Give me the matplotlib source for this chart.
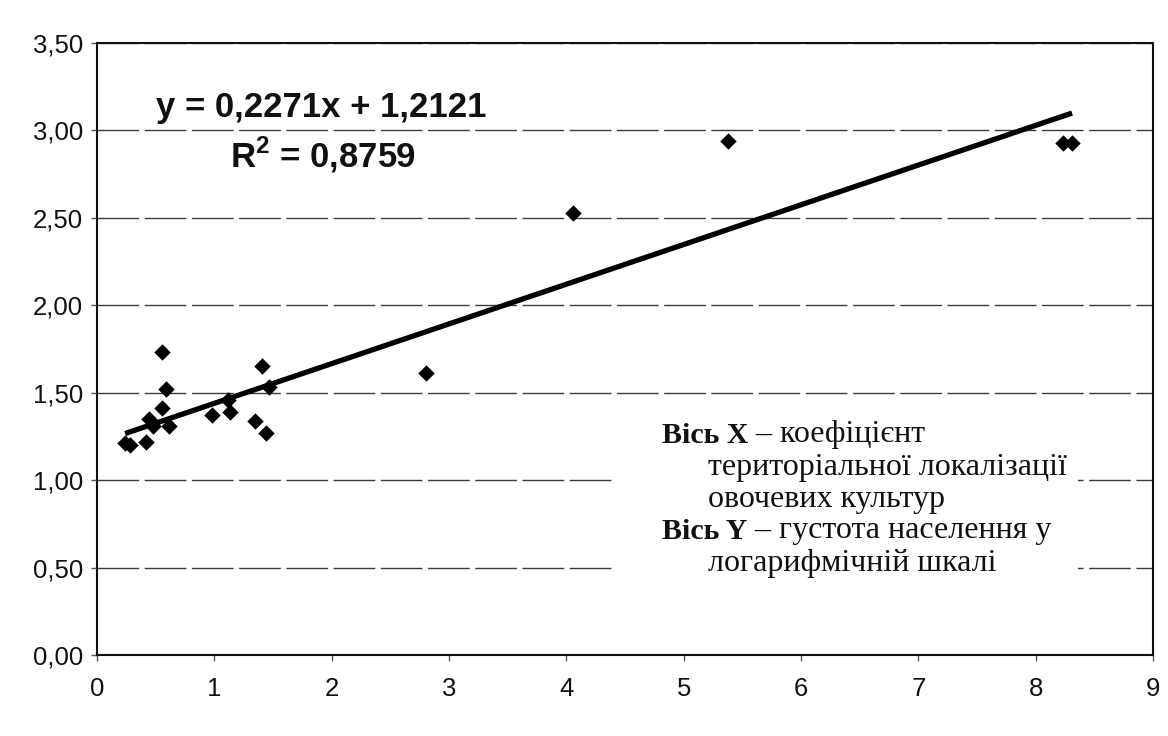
import matplotlib
matplotlib.use("Agg")
import matplotlib.pyplot as plt
from matplotlib.patches import Rectangle
import numpy as np

# Data
x_vals = [0.24, 0.28, 0.42, 0.44, 0.48, 0.55, 0.55, 0.59, 0.61, 0.98, 1.12,
          1.13, 1.35, 1.41, 1.44, 1.47, 2.80, 4.06, 5.38, 8.23, 8.31]
y_vals = [1.21, 1.20, 1.22, 1.35, 1.31, 1.73, 1.41, 1.52, 1.31, 1.37, 1.46,
          1.39, 1.34, 1.65, 1.27, 1.53, 1.61, 2.53, 2.94, 2.93, 2.93]
slope = 0.2271
intercept = 1.2121
r_squared = 0.8759
x_ticks = [0, 1, 2, 3, 4, 5, 6, 7, 8, 9]
y_ticks = [0.0, 0.5, 1.0, 1.5, 2.0, 2.5, 3.0, 3.5]
legend_lines = [
    ("Вісь X", " – коефіцієнт"),
    ("", "територіальної локалізації"),
    ("", "овочевих культур"),
    ("Вісь Y", " – густота населення у"),
    ("", "логарифмічній шкалі"),
]

plt.rcParams["mathtext.fontset"] = "custom"
plt.rcParams["mathtext.bf"] = "Liberation Sans:bold"
plt.rcParams["mathtext.rm"] = "Liberation Sans:bold"

W, H = 1168, 736
fig = plt.figure(figsize=(W / 100, H / 100), dpi=100)
fig.patch.set_facecolor("white")
ax = fig.add_axes([97 / W, 1 - 655 / H, (1153 - 97) / W, (655 - 43) / H])

ax.set_xlim(0, 9)
ax.set_ylim(0, 3.5)
ax.set_xticks(x_ticks)
ax.set_yticks(y_ticks)
ax.set_xticklabels([str(t) for t in x_ticks])
ax.set_yticklabels([f"{t:.2f}".replace(".", ",") for t in y_ticks])
ax.tick_params(axis="both", labelsize=18.5, length=4, width=1, color="#555555",
               labelcolor="#111111")
ax.tick_params(axis="y", pad=6)
ax.tick_params(axis="x", pad=12)
for lab in ax.get_xticklabels() + ax.get_yticklabels():
    lab.set_fontfamily("Liberation Sans")

ax.grid(axis="y", color="#3a3a3a", linewidth=1.0, linestyle=(0, (30, 4)))
ax.set_axisbelow(True)
for sp in ax.spines.values():
    sp.set_color("#111111")
    sp.set_linewidth(1.5)

# trendline over data range
xs = np.array([min(x_vals), max(x_vals)])
ax.plot(xs, slope * xs + intercept, color="black", linewidth=3.8,
        solid_capstyle="butt", zorder=3)
ax.scatter(x_vals, y_vals, marker="D", s=70, color="black", zorder=4,
           linewidths=0)

# white text box covering gridlines behind the axis description
box = Rectangle((615 / W, 1 - 585 / H), (1078 - 615) / W, (585 - 400) / H,
                transform=fig.transFigure, facecolor="white", edgecolor="none",
                zorder=2)
ax.add_patch(box)

# equation
eq = f"y = {slope:.4f}x + {intercept:.4f}".replace(".", ",")
r2 = r"R$^{\mathbf{2}}$ = " + f"{r_squared:.4f}".replace(".", ",")
fig.text(321 / W, 1 - 108 / H, eq, ha="center", va="center", fontsize=25,
         fontweight="bold", family="Liberation Sans", color="#111111")
fig.text(323 / W, 1 - 155 / H, r2, ha="center", va="center", fontsize=25,
         fontweight="bold", family="Liberation Sans", color="#111111")

# axis description text (baselines)
y_pos = [443, 475, 507, 539, 571]
for (bold, regular), yp in zip(legend_lines, y_pos):
    if bold:
        t = fig.text(662 / W, 1 - yp / H, bold, ha="left", va="baseline",
                     fontsize=21.5, fontweight="bold", family="Liberation Serif",
                     color="#111111", zorder=5)
        ax.annotate(regular, xy=(1, 0), xycoords=t, ha="left", va="bottom",
                    fontsize=23, family="Liberation Serif", color="#111111",
                    annotation_clip=False, zorder=5)
    else:
        fig.text(708 / W, 1 - yp / H, regular, ha="left", va="baseline",
                 fontsize=23, family="Liberation Serif", color="#111111",
                 zorder=5)

fig.savefig("out.png", dpi=100, facecolor="white")
